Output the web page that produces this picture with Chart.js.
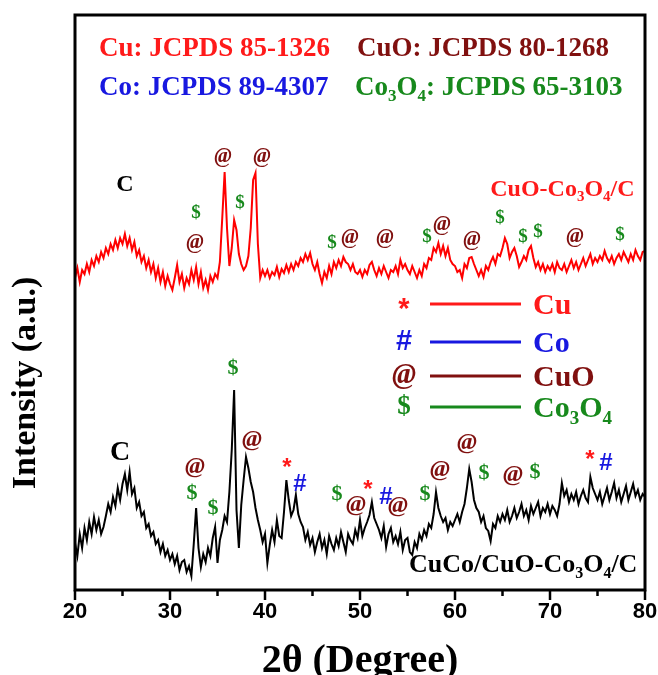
<!DOCTYPE html>
<html>
<head>
<meta charset="utf-8">
<script src="https://cdn.jsdelivr.net/npm/chart.js@4.4.0/dist/chart.umd.min.js"></script>
<style>
  html, body { margin: 0; padding: 0; background: #fff; }
  canvas { display: block; }
</style>
</head>
<body>
<canvas id="xrd" width="658" height="675"></canvas>
<script>
// scan grid (2θ, degrees)
const scanStart = 20;
const scanStep = 0.25;

// CuO-Co3O4/C (red), intensity a.u.
const cuoCo3o4C = [
  322, 332, 318, 330, 326, 336, 328, 340, 334, 344, 338, 348, 342, 352, 346, 356, 350, 360, 352, 362,
  356, 366, 354, 362, 350, 358, 344, 350, 338, 344, 332, 340, 328, 336, 322, 332, 318, 328, 314, 324,
  316, 310, 322, 335, 318, 326, 312, 322, 316, 330, 320, 333, 316, 328, 312, 320, 310, 324, 318, 326,
  322, 338, 382, 428, 372, 334, 352, 380, 370, 346, 336, 330, 334, 344, 372, 420, 427, 356, 322, 330,
  324, 330, 322, 328, 325, 333, 323, 331, 327, 335, 328, 336, 330, 338, 334, 342, 338, 346, 340, 347,
  336, 330, 338, 326, 317, 328, 322, 334, 326, 338, 332, 340, 334, 343, 338, 336, 330, 336, 328, 326,
  330, 323, 330, 326, 335, 338, 330, 324, 332, 326, 334, 328, 322, 330, 328, 334, 326, 340, 332, 336,
  330, 326, 334, 328, 322, 330, 324, 336, 332, 342, 340, 352, 348, 357, 346, 354, 344, 352, 340, 336,
  334, 328, 330, 322, 336, 332, 342, 343, 336, 330, 324, 330, 323, 334, 330, 338, 343, 336, 346, 344,
  352, 362, 356, 342, 348, 352, 344, 333, 338, 344, 340, 350, 354, 342, 333, 338, 330, 336, 328, 334,
  330, 336, 328, 338, 332, 330, 336, 328, 334, 340, 332, 338, 330, 336, 342, 334, 340, 346, 336, 342,
  338, 344, 340, 349, 342, 338, 344, 336, 342, 346, 340, 348, 343, 338, 346, 340, 350, 344, 340, 348,
  349
];

// CuCo/CuO-Co3O4/C (black), intensity a.u.
const cucoCuoCo3o4C = [
  57, 44, 66, 52, 72, 60, 78, 66, 83, 70, 80, 66, 73, 84, 96, 88, 103, 94, 112, 100,
  116, 126, 110, 128, 106, 112, 92, 98, 84, 88, 72, 76, 64, 68, 56, 60, 48, 56, 44, 50,
  40, 46, 36, 44, 30, 38, 40, 28, 34, 24, 56, 92, 52, 33, 46, 38, 52, 44, 62, 73,
  37, 60, 70, 84, 78, 108, 150, 210, 90, 52, 95, 120, 143, 132, 118, 108, 92, 80, 70, 58,
  66, 37, 55, 70, 58, 80, 64, 62, 88, 120, 100, 84, 90, 105, 86, 78, 73, 60, 68, 55,
  62, 48, 58, 66, 52, 60, 46, 64, 56, 50, 62, 54, 68, 58, 48, 66, 60, 56, 70, 62,
  80, 64, 72, 78, 85, 98, 82, 76, 70, 62, 74, 53, 66, 72, 58, 64, 56, 68, 50, 60,
  62, 48, 45, 58, 52, 66, 60, 70, 64, 76, 72, 86, 108, 92, 84, 78, 82, 70, 78, 74,
  80, 86, 78, 88, 96, 112, 131, 118, 100, 92, 88, 78, 84, 72, 69, 59, 76, 72, 84, 78,
  86, 80, 90, 78, 84, 92, 82, 88, 96, 84, 90, 80, 94, 86, 92, 98, 84, 92, 88, 96,
  86, 94, 90, 84, 96, 117, 104, 110, 98, 106, 100, 108, 96, 104, 110, 102, 98, 123, 112, 106,
  100, 108, 96, 104, 112, 100, 108, 117, 102, 110, 98, 106, 114, 100, 108, 116, 104, 110, 100, 106,
  103
];

const xTicks = [20, 30, 40, 50, 60, 70, 80];

// phase marks above the peaks: [symbol, 2θ, intensity]
const upperMarks = [
  ['C', 25.26, 415], ['$', 32.74, 387], ['@', 32.63, 357], ['@', 35.58, 443],
  ['$', 37.37, 397], ['@', 39.68, 443], ['$', 47.05, 357], ['@', 48.95, 362],
  ['@', 52.63, 362], ['$', 57.05, 363], ['@', 58.63, 375], ['@', 61.79, 360],
  ['$', 64.74, 382], ['$', 67.16, 363], ['$', 68.74, 368], ['@', 72.63, 363],
  ['$', 77.37, 365]
];
const lowerMarks = [
  ['C', 24.74, 147], ['@', 32.63, 133], ['$', 32.32, 107], ['$', 34.53, 92],
  ['$', 36.63, 232], ['@', 38.63, 160], ['*', 42.32, 137], ['#', 43.68, 116],
  ['$', 47.58, 106], ['@', 49.58, 95], ['*', 50.84, 115], ['#', 52.74, 103],
  ['@', 54.0, 94], ['$', 56.84, 106], ['@', 58.42, 130], ['@', 61.26, 157],
  ['$', 63.05, 127], ['@', 66.1, 125], ['$', 68.42, 128], ['*', 74.21, 145],
  ['#', 75.89, 137]
];

const RED = '#ff1a1a', DARKRED = '#80100f', BLUE = '#1818e0', GREEN = '#17891c';
const SERIF = '"Liberation Serif", "Times New Roman", serif';
const SANS = '"Liberation Sans", Arial, sans-serif';

const symStyle = {
  '@': { color: DARKRED, face: 'italic bold', fam: SERIF, k: 1.0, dy: 0 },
  '$': { color: GREEN, face: 'bold', fam: SERIF, k: 0.92, dy: 0 },
  '*': { color: RED, face: 'bold', fam: SANS, k: 1.0, dy: 0.22 },
  '#': { color: BLUE, face: 'bold', fam: SANS, k: 1.0, dy: 0 },
  'C': { color: '#000', face: 'bold', fam: SERIF, k: 1.15, dy: 0 }
};

function drawSym(ctx, s, x, y, size) {
  const st = symStyle[s];
  const px = Math.round(size * st.k);
  ctx.font = st.face + ' ' + px + 'px ' + st.fam;
  ctx.fillStyle = st.color;
  ctx.textAlign = 'center';
  ctx.textBaseline = 'middle';
  ctx.fillText(s, x, y + st.dy * px);
}

// text runs with subscripts: [[text, isSub], ...]
function drawRuns(ctx, runs, x, y, size, color, align) {
  const big = 'bold ' + size + 'px ' + SERIF;
  const small = 'bold ' + Math.round(size * 0.62) + 'px ' + SERIF;
  let w = 0;
  runs.forEach(r => { ctx.font = r[1] ? small : big; w += ctx.measureText(r[0]).width; });
  let cx = align === 'right' ? x - w : x;
  ctx.fillStyle = color;
  ctx.textAlign = 'left';
  ctx.textBaseline = 'alphabetic';
  runs.forEach(r => {
    ctx.font = r[1] ? small : big;
    ctx.fillText(r[0], cx, r[1] ? y + size * 0.22 : y);
    cx += ctx.measureText(r[0]).width;
  });
}

const decorations = {
  id: 'decorations',
  afterDraw(chart) {
    const { ctx, chartArea: a, scales: { x, y } } = chart;
    ctx.save();

    // frame
    ctx.strokeStyle = '#000';
    ctx.lineWidth = 3;
    ctx.strokeRect(a.left, a.top, a.right - a.left, a.bottom - a.top);

    // major / minor ticks below the axis
    ctx.lineWidth = 2.5;
    for (let v = 20; v <= 80; v += 5) {
      const px = x.getPixelForValue(v);
      const len = v % 10 === 0 ? 10 : 6;
      ctx.beginPath();
      ctx.moveTo(px, a.bottom);
      ctx.lineTo(px, a.bottom + len);
      ctx.stroke();
    }

    // y axis title
    ctx.save();
    ctx.translate(26, 383);
    ctx.rotate(-Math.PI / 2);
    ctx.font = 'bold 34px ' + SERIF;
    ctx.fillStyle = '#000';
    ctx.textAlign = 'center';
    ctx.textBaseline = 'middle';
    ctx.fillText('Intensity (a.u.)', 0, 0);
    ctx.restore();

    // reference cards
    drawRuns(ctx, [['Cu: JCPDS 85-1326']], 99, 56, 27, RED, 'left');
    drawRuns(ctx, [['CuO: JCPDS 80-1268']], 357, 56, 27, DARKRED, 'left');
    drawRuns(ctx, [['Co: JCPDS 89-4307']], 99, 95, 27, BLUE, 'left');
    drawRuns(ctx, [['Co'], ['3', 1], ['O'], ['4', 1], [': JCPDS 65-3103']], 355, 95, 27, GREEN, 'left');

    // peak marks
    upperMarks.forEach(m => drawSym(ctx, m[0], x.getPixelForValue(m[1]), y.getPixelForValue(m[2]), 21));
    lowerMarks.forEach(m => drawSym(ctx, m[0], x.getPixelForValue(m[1]), y.getPixelForValue(m[2]), 24));

    // sample names
    drawRuns(ctx, [['CuO-Co'], ['3', 1], ['O'], ['4', 1], ['/C']], x.getPixelForValue(78.9), y.getPixelForValue(404), 24, RED, 'right');
    drawRuns(ctx, [['CuCo/CuO-Co'], ['3', 1], ['O'], ['4', 1], ['/C']], x.getPixelForValue(79.2), y.getPixelForValue(28), 26, '#000', 'right');

    // phase key
    const key = [
      ['*', RED, 304, [['Cu']]],
      ['#', BLUE, 342, [['Co']]],
      ['@', DARKRED, 376, [['CuO']]],
      ['$', GREEN, 407, [['Co'], ['3', 1], ['O'], ['4', 1]]]
    ];
    key.forEach(k => {
      drawSym(ctx, k[0], 404, k[2], 29);
      ctx.strokeStyle = k[1];
      ctx.lineWidth = 3;
      ctx.beginPath();
      ctx.moveTo(430, k[2]);
      ctx.lineTo(521, k[2]);
      ctx.stroke();
      drawRuns(ctx, k[3], 533, k[2] + 10, 30, k[1], 'left');
    });

    ctx.restore();
  }
};

const toPoints = vals => vals.map((v, i) => ({ x: scanStart + i * scanStep, y: v }));

new Chart(document.getElementById('xrd'), {
  type: 'line',
  data: {
    datasets: [
      { label: 'CuO-Co3O4/C', data: toPoints(cuoCo3o4C), borderColor: '#ff0000', borderWidth: 2, pointRadius: 0, tension: 0 },
      { label: 'CuCo/CuO-Co3O4/C', data: toPoints(cucoCuoCo3o4C), borderColor: '#000', borderWidth: 2, pointRadius: 0, tension: 0 }
    ]
  },
  options: {
    responsive: false,
    animation: false,
    layout: { padding: { left: 75, right: 13, top: 15, bottom: 0 } },
    plugins: { legend: { display: false }, tooltip: { enabled: false } },
    scales: {
      x: {
        type: 'linear',
        min: 20,
        max: 80,
        grid: { display: false, drawTicks: false },
        border: { display: false },
        afterBuildTicks: s => { s.ticks = xTicks.map(v => ({ value: v })); },
        afterFit: s => { s.height = 85; s.paddingLeft = 0; s.paddingRight = 0; },
        ticks: {
          color: '#000',
          padding: 9,
          maxRotation: 0,
          font: { family: SANS, size: 22, weight: 'bold' }
        },
        title: {
          display: true,
          text: '2θ (Degree)',
          color: '#000',
          padding: 0,
          font: { family: SERIF, size: 40, weight: 'bold', lineHeight: 0.65 }
        }
      },
      y: { display: false, min: 10, max: 585 }
    }
  },
  plugins: [decorations]
});
</script>
</body>
</html>
